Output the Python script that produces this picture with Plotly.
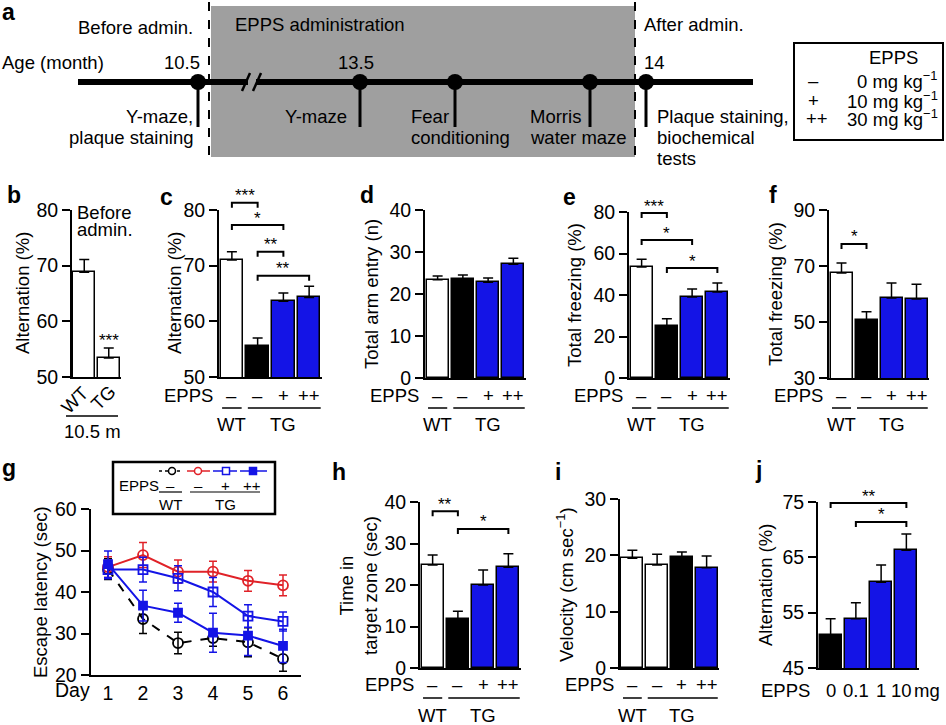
import plotly.graph_objects as go

# ---------------- data ----------------
treat_labels = ["–", "–", "+", "++"]
group_labels = ["WT", "TG"]

b_cats = ["WT", "TG"]
b_vals = [68.8, 53.4]
b_err = [2.3, 1.8]
b_sig = "***"

c_vals = [71.0, 55.5, 63.6, 64.3]
c_err = [1.5, 1.5, 1.5, 2.0]
c_brackets = [(0, 1, 81.3, "***"), (0, 2, 77.3, "*"), (1, 2, 72.5, "**"), (1, 3, 68.2, "**")]

d_vals = [23.4, 23.5, 22.8, 27.1]
d_err = [0.9, 1.0, 1.0, 1.4]

e_vals = [53.5, 25.1, 39.0, 41.4]
e_err = [3.7, 3.4, 3.9, 4.4]
e_brackets = [(0, 1, 79.5, "***"), (0, 2, 66.5, "*"), (1, 3, 53.0, "*")]

f_vals = [67.5, 50.8, 58.6, 58.2]
f_err = [3.6, 2.9, 5.3, 5.3]
f_brackets = [(0, 1, 77.9, "*")]

days = [1, 2, 3, 4, 5, 6]
g_wt = [45.5, 33.5, 27.7, 28.9, 27.9, 23.9]
g_wt_err = [2.5, 3.5, 2.6, 2.0, 3.5, 3.0]
g_tg0 = [46.0, 48.9, 44.9, 44.9, 42.7, 41.6]
g_tg0_err = [2.5, 3.0, 2.8, 2.5, 2.5, 2.5]
g_tg1 = [45.4, 45.4, 43.3, 40.0, 34.2, 32.9]
g_tg1_err = [2.2, 3.0, 3.0, 3.5, 2.7, 2.3]
g_tg2 = [46.7, 36.7, 35.0, 30.2, 29.5, 27.0]
g_tg2_err = [3.2, 3.7, 2.3, 4.7, 4.8, 4.0]

h_vals = [24.8, 11.8, 20.0, 24.3]
h_err = [2.4, 1.9, 3.6, 3.2]
h_brackets = [(0, 1, 37.8, "**"), (1, 3, 33.5, "*")]

i_vals = [19.5, 18.3, 19.7, 17.8]
i_err = [1.4, 1.9, 0.9, 2.1]

j_doses = ["0", "0.1", "1", "10"]
j_vals = [51.0, 53.9, 60.5, 66.3]
j_err = [2.9, 2.9, 3.1, 2.9]
j_brackets = [(0, 3, 74.8, "**"), (1, 3, 71.4, "*")]

timeline_ages = ["10.5", "13.5", "14"]
legend_doses = ["0 mg kg<sup>−1</sup>", "10 mg kg<sup>−1</sup>", "30 mg kg<sup>−1</sup>"]

# ---------------- styling / layout helpers ----------------
W, H = 946, 725
FONT = "Liberation Sans, Arial, Helvetica, sans-serif"
FS = 18.5
TFS = 19.5
BLUE = "#1414e6"
RED = "#e02228"
GREY = "#9f9f9f"
WHITE = "white"
BLACK = "black"

fig = go.Figure()
layout_axes = {}
annotations = []
shapes = []
_counter = [0]


def new_id():
    _counter[0] += 1
    return _counter[0]


def ax_key(letter, n):
    return f"{letter}axis" if n == 1 else f"{letter}axis{n}"


def ax_ref(letter, n):
    return letter if n == 1 else f"{letter}{n}"


def PX(x):
    return x / W


def PY(y):
    return 1 - y / H


def text(x, y, s, xanchor="center", size=FS, bold=False, angle=0):
    annotations.append(dict(xref="paper", yref="paper", x=PX(x), y=PY(y),
                            text=(f"<b>{s}</b>" if bold else s), showarrow=False,
                            xanchor=xanchor, yanchor="middle", textangle=angle,
                            font=dict(size=size, family=FONT, color=BLACK)))


def pline(x0, y0, x1, y1, width=2, dash="solid", color=BLACK):
    shapes.append(dict(type="line", xref="paper", yref="paper", x0=PX(x0), y0=PY(y0),
                       x1=PX(x1), y1=PY(y1), line=dict(color=color, width=width, dash=dash)))


def yaxis_style(domain_px, rng, ticks, anchor):
    return dict(domain=[PY(domain_px[0]), PY(domain_px[1])], range=rng, anchor=anchor,
                showline=True, linewidth=2, linecolor=BLACK, tickvals=ticks,
                ticks="outside", ticklen=8, tickwidth=2, tickcolor=BLACK,
                tickfont=dict(size=TFS, family=FONT, color=BLACK),
                showgrid=False, zeroline=False, fixedrange=True)


def bar_panel(vals, errs, colors, xpx, ypx, yr, ticks, brackets=(), ext_top=None, pattern=None):
    n = new_id()
    xr, yrf = ax_ref("x", n), ax_ref("y", n)
    k = len(vals)
    marker = dict(color=colors, line=dict(color=BLACK, width=1.5))
    if pattern:
        marker["pattern"] = pattern
    fig.add_trace(go.Bar(x=list(range(k)), y=vals, width=0.88, xaxis=xr, yaxis=yrf,
                         marker=marker, hoverinfo="skip",
                         error_y=dict(type="data", array=errs, arrayminus=[0] * k, symmetric=False,
                                      color=BLACK, thickness=1.5, width=5)))
    layout_axes[ax_key("x", n)] = dict(domain=[PX(xpx[0]), PX(xpx[1])], range=[-0.5, k - 0.5],
                                       anchor=yrf, showline=True, linewidth=2, linecolor=BLACK,
                                       ticks="", showticklabels=False, showgrid=False,
                                       zeroline=False, fixedrange=True)
    layout_axes[ax_key("y", n)] = yaxis_style(ypx, yr, ticks, xr)
    if brackets:
        m = new_id()
        yb = ax_ref("y", m)
        span = (ypx[0] - ext_top) / (ypx[0] - ypx[1])
        layout_axes[ax_key("y", m)] = dict(domain=[PY(ypx[0]), PY(ext_top)],
                                           range=[yr[0], yr[0] + (yr[1] - yr[0]) * span],
                                           anchor=xr, visible=False, fixedrange=True)
        tip = 5 * (yr[1] - yr[0]) / (ypx[0] - ypx[1])
        for i, j, y, s in brackets:
            fig.add_trace(go.Scatter(x=[i, i, j, j], y=[y - tip, y, y, y - tip], mode="lines",
                                     line=dict(color=BLACK, width=2), xaxis=xr, yaxis=yb,
                                     hoverinfo="skip"))
            annotations.append(dict(xref=xr, yref=yb, x=(i + j) / 2, y=y, text=s, showarrow=False,
                                    yanchor="middle", yshift=7,
                                    font=dict(size=17, family=FONT, color=BLACK)))
    return xr, yrf


def treat_row(xr, axis_x, y_epps, y_line, y_group, labels=treat_labels, groups=True):
    text(axis_x - 4, y_epps, "EPPS", xanchor="right")
    for i, s in enumerate(labels):
        annotations.append(dict(xref=xr, yref="paper", x=i, y=PY(y_epps), text=s, showarrow=False,
                                yanchor="middle", font=dict(size=FS, family=FONT, color=BLACK)))
    if groups:
        for (a, b) in [(-0.38, 0.38), (0.62, 3.45)]:
            shapes.append(dict(type="line", xref=xr, yref="paper", x0=a, x1=b,
                               y0=PY(y_line), y1=PY(y_line), line=dict(color=BLACK, width=1.5)))
        for xpos, s in zip([0, 2], group_labels):
            annotations.append(dict(xref=xr, yref="paper", x=xpos, y=PY(y_group), text=s,
                                    showarrow=False, yanchor="middle",
                                    font=dict(size=FS, family=FONT, color=BLACK)))


# ---------------- panel a: timeline schematic ----------------
shapes.append(dict(type="rect", xref="paper", yref="paper", x0=PX(211), x1=PX(635), y0=PY(157),
                   y1=PY(6), fillcolor=GREY, line=dict(width=0), layer="below"))
pline(209, 2, 209, 158, width=2, dash="dash")
pline(635, 2, 635, 162, width=2, dash="dash")
pline(78, 82, 753, 82, width=6)
shapes.append(dict(type="rect", xref="paper", yref="paper", x0=PX(248), x1=PX(256), y0=PY(87),
                   y1=PY(77), fillcolor=GREY, line=dict(width=0)))
pline(242, 91, 250, 73, width=2.5)
pline(253, 91, 261, 73, width=2.5)
for xd in [198, 360, 455, 590, 646]:
    pline(xd, 82, xd, 127, width=3)
    shapes.append(dict(type="circle", xref="paper", yref="paper", x0=PX(xd - 8), x1=PX(xd + 8),
                       y0=PY(90), y1=PY(74), fillcolor=BLACK, line=dict(width=0)))
text(0, 12, "a", xanchor="left", size=23, bold=True)
text(195, 28, "Before admin.", xanchor="right")
text(233, 25, "EPPS administration", xanchor="left")
text(642, 25, "After admin.", xanchor="left")
text(0, 62, "Age (month)", xanchor="left")
text(202, 62, timeline_ages[0], xanchor="right")
text(356, 62, timeline_ages[1])
text(642, 62, timeline_ages[2], xanchor="left")
text(195, 117, "Y-maze,", xanchor="right")
text(195, 137, "plaque staining", xanchor="right")
text(349, 117, "Y-maze", xanchor="right")
text(409, 117, "Fear", xanchor="left")
text(409, 137, "conditioning", xanchor="left")
text(528, 117, "Morris", xanchor="left")
text(528, 137, "water maze", xanchor="left")
text(655, 117, "Plaque staining,", xanchor="left")
text(655, 137, "biochemical", xanchor="left")
text(655, 158, "tests", xanchor="left")
# dose legend
shapes.append(dict(type="rect", xref="paper", yref="paper", x0=PX(794), x1=PX(943), y0=PY(140),
                   y1=PY(43), line=dict(color=BLACK, width=2)))
text(893, 57, "EPPS")
for sym, dose, yy, xs in zip(treat_labels[1:2] + treat_labels[2:], legend_doses, [80, 100, 118],
                             [813, 813, 817]):
    text(xs, yy, sym)
    text(940, yy, dose, xanchor="right")

# ---------------- panel b ----------------
xb, yb_ = bar_panel(b_vals, b_err, [WHITE, WHITE], (72, 121), (377, 210), [50, 80], [50, 60, 70, 80],
                    pattern=dict(shape=["", "/"], fgcolor=BLACK, bgcolor=WHITE, size=7, solidity=0.3))
annotations.append(dict(xref=xb, yref=yb_, x=1, y=b_vals[1] + b_err[1], text=b_sig, showarrow=False,
                        yanchor="middle", yshift=8, font=dict(size=17, family=FONT, color=BLACK)))
text(5, 195, "b", xanchor="left", size=23, bold=True)
text(22, 293, "Alternation (%)", angle=-90)
text(75, 212, "Before", xanchor="left")
text(75, 230, "admin.", xanchor="left")
text(74, 400, b_cats[0], angle=-45)
text(103, 397, b_cats[1], angle=-45)
pline(66, 416, 118, 416, width=1.5)
text(92, 431, "10.5 m")

# ---------------- panel c ----------------
xc, _ = bar_panel(c_vals, c_err, [WHITE, BLACK, BLUE, BLUE], (219, 322), (377, 210), [50, 80],
                  [50, 60, 70, 80], brackets=c_brackets, ext_top=170)
treat_row(xc, 219, 395, 408, 424)
text(158, 197, "c", xanchor="left", size=23, bold=True)
text(174, 293, "Alternation (%)", angle=-90)

# ---------------- panel d ----------------
xd_, _ = bar_panel(d_vals, d_err, [WHITE, BLACK, BLUE, BLUE], (425, 526), (378, 210), [0, 40],
                   [0, 10, 20, 30, 40])
treat_row(xd_, 425, 395, 408, 424)
text(358, 195, "d", xanchor="left", size=23, bold=True)
text(371, 294, "Total arm entry (n)", angle=-90)

# ---------------- panel e ----------------
xe, _ = bar_panel(e_vals, e_err, [WHITE, BLACK, BLUE, BLUE], (629, 730), (378, 212), [0, 80],
                  [0, 20, 40, 60, 80], brackets=e_brackets, ext_top=170)
treat_row(xe, 629, 395, 408, 424)
text(561, 197, "e", xanchor="left", size=23, bold=True)
text(575, 295, "Total freezing (%)", angle=-90)

# ---------------- panel f ----------------
xf, _ = bar_panel(f_vals, f_err, [WHITE, BLACK, BLUE, BLUE], (829, 929), (378, 210), [30, 90],
                  [30, 50, 70, 90], brackets=f_brackets, ext_top=170)
treat_row(xf, 829, 395, 408, 424)
text(767, 195, "f", xanchor="left", size=23, bold=True)
text(775, 294, "Total freezing (%)", angle=-90)

# ---------------- panel g ----------------
ng = new_id()
xg, yg = ax_ref("x", ng), ax_ref("y", ng)
series = [
    (g_wt, g_wt_err, BLACK, "dash", "circle-open", 10),
    (g_tg0, g_tg0_err, RED, "solid", "circle-open", 10),
    (g_tg1, g_tg1_err, BLUE, "solid", "square-open", 9),
    (g_tg2, g_tg2_err, BLUE, "solid", "square", 8),
]
for ys, es, col, dash, sym, sz in series:
    fig.add_trace(go.Scatter(x=days, y=ys, mode="lines+markers", xaxis=xg, yaxis=yg,
                             line=dict(color=col, width=2, dash=dash),
                             marker=dict(symbol=sym, size=sz, color=col, line=dict(color=col, width=1.8)),
                             error_y=dict(type="data", array=es, color=col, thickness=1.5, width=4),
                             hoverinfo="skip"))
layout_axes[ax_key("x", ng)] = dict(domain=[PX(90.5), PX(300.5)], range=[0.5, 6.5], anchor=yg,
                                    showline=True, linewidth=2, linecolor=BLACK, ticks="",
                                    tickvals=days, tickfont=dict(size=TFS, family=FONT, color=BLACK),
                                    showgrid=False, zeroline=False, fixedrange=True)
layout_axes[ax_key("y", ng)] = yaxis_style((675, 509), [20, 60], [20, 30, 40, 50, 60], xg)
text(92, 690, "Day", xanchor="right", size=TFS)
text(0, 468, "g", xanchor="left", size=23, bold=True)
text(40, 592, "Escape latency (sec)", angle=-90)
# legend box
shapes.append(dict(type="rect", xref="paper", yref="paper", x0=PX(113), x1=PX(275), y0=PY(514),
                   y1=PY(462), line=dict(color=BLACK, width=2.5)))
leg_y = 471
for (x0, x1, xm), (ys, es, col, dash, sym, sz) in zip(
        [(159, 182, 172), (187, 210, 198), (213, 237, 226), (240, 267, 253)], series):
    pline(x0, leg_y, x1, leg_y, width=1.5, dash=("dot" if dash == "dash" else "solid"), color=col)
    if sym.startswith("circle"):
        shapes.append(dict(type="circle", xref="paper", yref="paper", x0=PX(xm - 3.5), x1=PX(xm + 3.5),
                           y0=PY(leg_y + 3.5), y1=PY(leg_y - 3.5), fillcolor=WHITE,
                           line=dict(color=col, width=1.5)))
    else:
        shapes.append(dict(type="rect", xref="paper", yref="paper", x0=PX(xm - 3.5), x1=PX(xm + 3.5),
                           y0=PY(leg_y + 3.5), y1=PY(leg_y - 3.5),
                           fillcolor=(col if sym == "square" else WHITE),
                           line=dict(color=col, width=1.5)))
text(117, 485, "EPPS", xanchor="left", size=15)
for xl, s in zip([170, 198, 225, 252], treat_labels):
    text(xl, 485, s, size=15)
pline(159, 492, 182, 492, width=1.2)
pline(190, 492, 260, 492, width=1.2)
text(170, 504, group_labels[0], size=15)
text(225, 504, group_labels[1], size=15)

# ---------------- panel h ----------------
xh, _ = bar_panel(h_vals, h_err, [WHITE, BLACK, BLUE, BLUE], (420, 521), (668, 502), [0, 40],
                  [0, 10, 20, 30, 40], brackets=h_brackets, ext_top=470)
treat_row(xh, 420, 684, 698, 715)
text(330, 472, "h", xanchor="left", size=23, bold=True)
text(358, 586, "Time in<br>target zone (sec)", angle=-90)

# ---------------- panel i ----------------
xi, _ = bar_panel(i_vals, i_err, [WHITE, WHITE, BLACK, BLUE], (620, 719), (668, 499), [0, 30],
                  [0, 10, 20, 30])
treat_row(xi, 620, 684, 698, 715)
text(553, 472, "i", xanchor="left", size=23, bold=True)
text(565, 585, "Velocity (cm sec<sup>−1</sup>)", angle=-90)

# ---------------- panel j ----------------
xj, _ = bar_panel(j_vals, j_err, [BLACK, BLUE, BLUE, BLUE], (818, 919), (668, 502), [45, 75],
                  [45, 55, 65, 75], brackets=j_brackets, ext_top=470)
text(812, 690, "EPPS", xanchor="right")
for k_, s in enumerate(j_doses):
    annotations.append(dict(xref=xj, yref="paper", x=k_, y=PY(690), text=s, showarrow=False,
                            yanchor="middle", xshift=(-5 if k_ == len(j_doses) - 1 else 0),
                            font=dict(size=FS, family=FONT, color=BLACK)))
annotations.append(dict(xref=xj, yref="paper", x=len(j_doses) - 1, y=PY(690), text="mg",
                        showarrow=False, xanchor="left", yanchor="middle", xshift=6,
                        font=dict(size=FS, family=FONT, color=BLACK)))
text(753, 470, "j", xanchor="left", size=23, bold=True)
text(765, 585, "Alternation (%)", angle=-90)

fig.update_layout(**layout_axes)
fig.update_layout(
    width=W, height=H, margin=dict(l=0, r=0, t=0, b=0, pad=0),
    paper_bgcolor="white", plot_bgcolor="rgba(0,0,0,0)", template="none",
    showlegend=False, bargap=0,
    font=dict(family=FONT, size=FS, color=BLACK),
    annotations=annotations, shapes=shapes,
)
fig.write_html("out.html", config={"displayModeBar": False},
               post_script="document.body.style.margin='0';document.body.style.overflow='hidden';")
